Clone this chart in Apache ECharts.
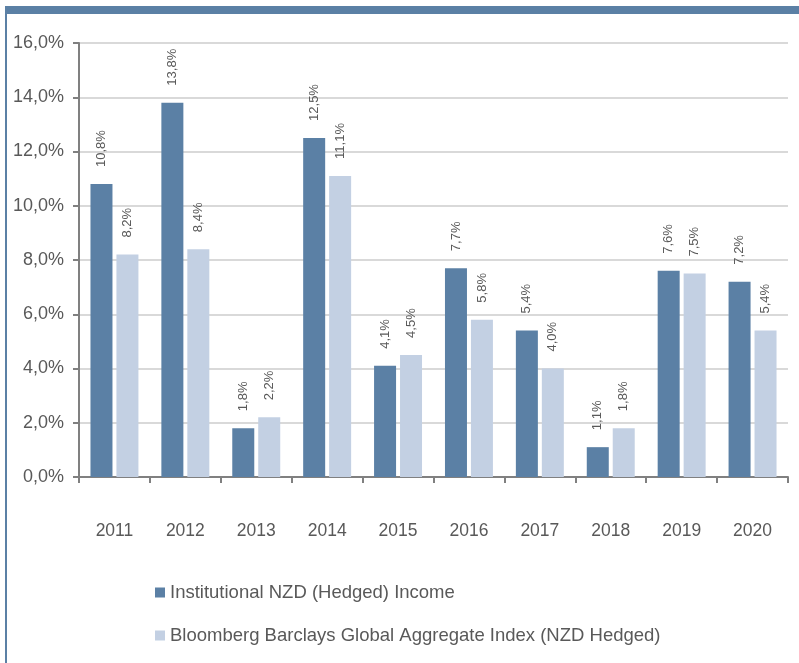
<!DOCTYPE html>
<html>
<head>
<meta charset="utf-8">
<script src="https://cdn.jsdelivr.net/npm/echarts@6/dist/echarts.min.js"></script>
<style>
  html, body { margin: 0; padding: 0; background: #fff; }
  #main { width: 799px; height: 663px; }
</style>
</head>
<body>
<div id="main"></div>
<script>
// 数据
var years = ['2011', '2012', '2013', '2014', '2015', '2016', '2017', '2018', '2019', '2020'];
var incomeVals = [10.8, 13.8, 1.8, 12.5, 4.1, 7.7, 5.4, 1.1, 7.6, 7.2];
var indexVals = [8.2, 8.4, 2.2, 11.1, 4.5, 5.8, 4.0, 1.8, 7.5, 5.4];
var seriesNames = ['Institutional NZD (Hedged) Income', 'Bloomberg Barclays Global Aggregate Index (NZD Hedged)'];

function pct(v) {
    return v.toFixed(1).replace('.', ',') + '%';
}

var myChart = echarts.init(document.getElementById('main'));

var labelStyle = {
    show: true,
    position: 'top',
    rotate: 90,
    align: 'left',
    verticalAlign: 'middle',
    distance: 17,
    color: '#595959',
    fontSize: 13,
    fontFamily: 'Liberation Sans, Arial',
    formatter: function(p) { return pct(p.value); }
};

var option = {
    animation: false,
    textStyle: { fontFamily: 'Liberation Sans, Arial' },
    graphic: [
        { type: 'rect', shape: { x: 6, y: 6, width: 793, height: 8 }, style: { fill: '#5b80a5' } },
        { type: 'rect', shape: { x: 5, y: 6, width: 2, height: 657 }, style: { fill: '#5b80a5' } }
    ],
    grid: { left: 79, top: 43, right: 11, bottom: 186 },
    legend: {
        orient: 'vertical',
        left: 155,
        top: 583,
        padding: 0,
        itemWidth: 10,
        itemHeight: 10,
        itemGap: 24,
        icon: 'rect',
        textStyle: { color: '#595959', fontSize: 18.5 },
        data: seriesNames
    },
    xAxis: {
        type: 'category',
        data: years,
        axisLine: { lineStyle: { color: '#808080', width: 2 } },
        axisTick: { show: true, length: 6, lineStyle: { color: '#808080', width: 2 } },
        axisLabel: { color: '#595959', fontSize: 17.5, margin: 45 }
    },
    yAxis: {
        type: 'value',
        min: 0,
        max: 16,
        interval: 2,
        axisLine: { show: true, lineStyle: { color: '#808080', width: 2 } },
        axisTick: { show: true, length: 6, lineStyle: { color: '#808080', width: 2 } },
        splitLine: { lineStyle: { color: '#d9d9d9', width: 2 } },
        axisLabel: {
            color: '#595959',
            fontSize: 18,
            margin: 15,
            formatter: function(v) { return pct(v); }
        }
    },
    series: [
        {
            name: seriesNames[0],
            type: 'bar',
            data: incomeVals,
            barWidth: 22,
            barGap: '18%',
            itemStyle: { color: '#5b80a5' },
            label: labelStyle
        },
        {
            name: seriesNames[1],
            type: 'bar',
            data: indexVals,
            barWidth: 22,
            barGap: '18%',
            itemStyle: { color: '#c3d0e3' },
            label: labelStyle
        }
    ]
};

myChart.setOption(option);
</script>
</body>
</html>
